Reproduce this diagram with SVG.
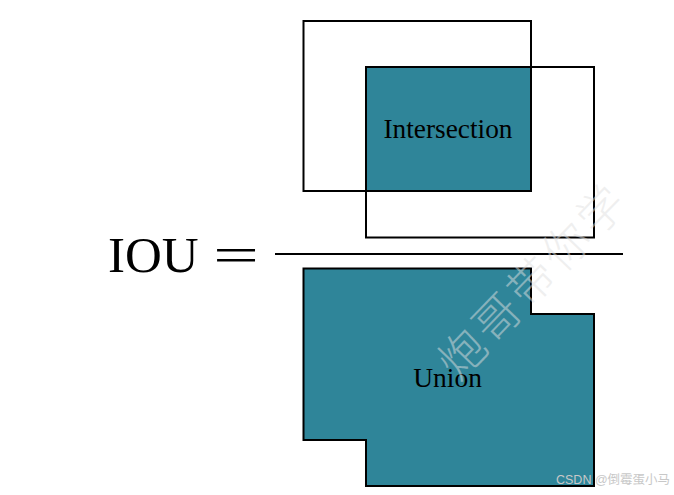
<svg xmlns="http://www.w3.org/2000/svg" width="674" height="495" viewBox="0 0 674 495">
<style>
.box{fill:none;stroke:#000;stroke-width:2}
.fill{fill:#2f8599;stroke:#000;stroke-width:2}
.lbl{font-family:"Liberation Serif","Times New Roman",serif;fill:#000}
.wm{font-family:"Noto Sans CJK SC","Noto Sans CJK JP",sans-serif;font-weight:300;fill:#e0e0e0;fill-opacity:0.5}
</style>
<rect width="674" height="495" fill="#fff"/>
<g id="intersection-fill">
<rect class="fill" x="366" y="67" width="165" height="124" stroke="none"/>
</g>
<g id="boxA">
<rect class="box" x="303.5" y="21" width="227.5" height="170"/>
</g>
<g id="boxB">
<rect class="box" x="366" y="67" width="228" height="170.5" stroke-width="1.7"/>
</g>
<g id="intersection-label">
<text class="lbl" x="448" y="137.7" font-size="28" text-anchor="middle" textLength="129" lengthAdjust="spacingAndGlyphs">Intersection</text>
</g>
<g id="fraction">
<line x1="275" y1="254" x2="623" y2="254" stroke="#000" stroke-width="2"/>
</g>
<g id="union">
<polygon class="fill" points="303.5,268.5 531,268.5 531,314 594,314 594,486 366,486 366,440 303.5,440"/>
<text class="lbl" x="447.5" y="386.7" font-size="27.5" text-anchor="middle">Union</text>
</g>
<g id="iou">
<text class="lbl" x="108" y="271.7" font-size="51">IOU</text>
<text class="lbl" x="0" y="0" font-size="51" transform="translate(213,272) scale(1.6,1)">=</text>
</g>
<g id="watermark">
<text class="wm" x="0" y="0" font-size="46" letter-spacing="4" transform="translate(458,382) rotate(-46)">炮哥带你学</text>
<text x="556" y="484" font-family="'Liberation Sans','Noto Sans CJK SC',sans-serif" font-size="12.5" fill="#c8c8c8">CSDN @倒霉蛋小马</text>
</g>
</svg>
